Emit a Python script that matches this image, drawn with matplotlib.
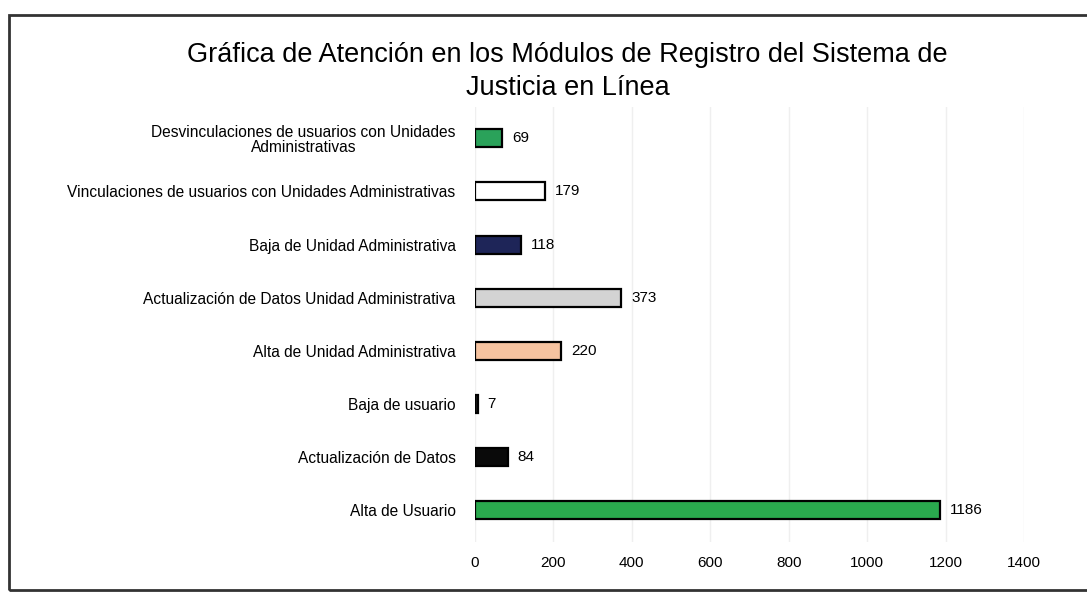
import matplotlib
matplotlib.use("Agg")
import matplotlib.pyplot as plt
from matplotlib.patches import Rectangle

plt.rcParams['font.family'] = ['Liberation Sans', 'DejaVu Sans']

# Datos (de abajo hacia arriba)
categorias = [
    'Alta de Usuario',
    'Actualización de Datos',
    'Baja de usuario',
    'Alta de Unidad Administrativa',
    'Actualización de Datos Unidad Administrativa',
    'Baja de Unidad Administrativa',
    'Vinculaciones de usuarios con Unidades Administrativas',
    'Desvinculaciones de usuarios con Unidades\nAdministrativas',
]
valores = [1186, 84, 7, 220, 373, 118, 179, 69]
colores = ['#2aa94e', '#0a0a0a', '#1a1a1a', '#f6c3a0', '#d3d3d3',
           '#1e2558', '#ffffff', '#2aa25a']
ticks_x = [0, 200, 400, 600, 800, 1000, 1200, 1400]

fig = plt.figure(figsize=(10.87, 5.92), dpi=100)
ax = fig.add_axes([0.437, 0.085, 0.505, 0.735])

pos = list(range(len(categorias)))
ax.barh(pos, valores, height=0.34, color=colores, edgecolor='black', linewidth=1.6)

for p, v in zip(pos, valores):
    ax.text(v + 25, p, str(v), va='center', ha='left', fontsize=11)

ax.set_xlim(0, 1400)
ax.set_ylim(-0.6, 7.6)
ax.set_yticks(pos)
ax.set_yticklabels(categorias, fontsize=11.2)
ax.set_xticks(ticks_x)
ax.tick_params(axis='both', length=0)
ax.tick_params(axis='x', labelsize=11, pad=10)
ax.tick_params(axis='y', pad=14)
for lbl in ax.get_yticklabels():
    lbl.set_multialignment('center')
    lbl.set_linespacing(1.05)
ax.grid(axis='x', color='#efefef', linewidth=1)
ax.set_axisbelow(True)
for s in ax.spines.values():
    s.set_visible(False)

fig.text(0.522, 0.88, 'Gráfica de Atención en los Módulos de Registro del Sistema de\nJusticia en Línea',
         ha='center', va='center', fontsize=19.5, linespacing=1.35)

# marco
fig.patches.append(Rectangle((0.008, 0.004), 1.1, 0.97, transform=fig.transFigure,
                             fill=False, edgecolor='#333333', linewidth=2))

fig.savefig('out.png', dpi=100)
